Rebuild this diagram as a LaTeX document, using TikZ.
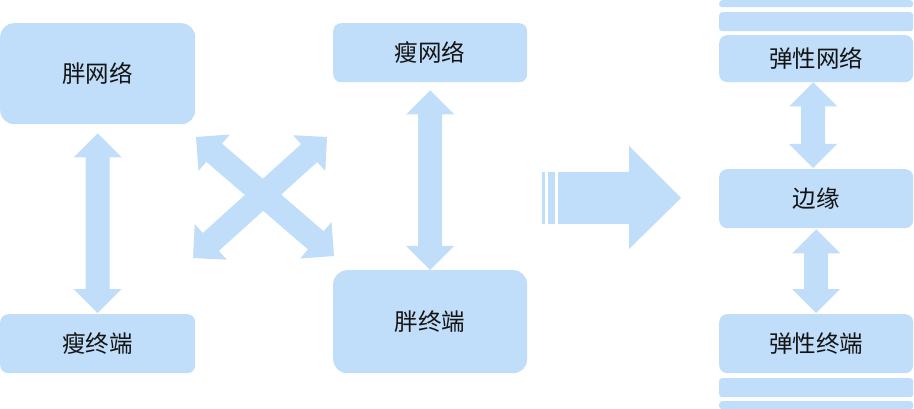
\documentclass[tikz,border=0pt]{standalone}
\usepackage{fontspec}
\newfontfamily\cjk{Noto Sans CJK SC}
\usetikzlibrary{calc}
\definecolor{boxblue}{RGB}{192,221,249}
\definecolor{txt}{RGB}{20,20,20}
\tikzset{
  box/.style={fill=boxblue, draw=none, anchor=north west, inner sep=0pt,
    minimum width=194pt, text=txt, font=\cjk\fontsize{23.5}{26}\selectfont},
  bigbox/.style={box, minimum height=101pt, rounded corners=14pt},
  smallbox/.style={box, minimum height=59pt, rounded corners=8pt},
  stripe/.style={fill=boxblue, draw=none, rounded corners=3pt},
  dbl/.style={fill=boxblue, draw=none, to path={
    -- ($(\tikztostart)!24pt!(\tikztotarget)!24pt!90:(\tikztotarget)$)
    -- ($(\tikztostart)!24pt!(\tikztotarget)!12pt!90:(\tikztotarget)$)
    -- ($(\tikztotarget)!24pt!(\tikztostart)!12pt!-90:(\tikztostart)$)
    -- ($(\tikztotarget)!24pt!(\tikztostart)!24pt!-90:(\tikztostart)$)
    -- (\tikztotarget)
    -- ($(\tikztotarget)!24pt!(\tikztostart)!24pt!90:(\tikztostart)$)
    -- ($(\tikztotarget)!24pt!(\tikztostart)!12pt!90:(\tikztostart)$)
    -- ($(\tikztostart)!24pt!(\tikztotarget)!12pt!-90:(\tikztotarget)$)
    -- ($(\tikztostart)!24pt!(\tikztotarget)!24pt!-90:(\tikztotarget)$)
    -- cycle}}
}
\begin{document}
\begin{tikzpicture}[x=1pt,y=-1pt]
\useasboundingbox[fill=white] (0,0) rectangle (914,409);
% left column
\node[bigbox, minimum width=195pt] (fatnet) at (0,23) {胖网络};
\node[smallbox, minimum width=195pt] (thinterm) at (0,314) {瘦终端};
% middle column
\node[smallbox] (thinnet) at (333,23) {瘦网络};
\node[bigbox, minimum height=103pt] (fatterm) at (333,270) {胖终端};
% right column
\node[stripe, fill=boxblue, anchor=north west, minimum width=194pt, minimum height=7pt, inner sep=0pt] (s1) at (719,0) {};
\node[stripe, anchor=north west, minimum width=194pt, minimum height=19pt, inner sep=0pt] (s2) at (719,12) {};
\node[smallbox, minimum height=47pt] (elnet) at (719,35) {弹性网络};
\node[smallbox] (edge) at (719,169) {边缘};
\node[smallbox] (elterm) at (719,314) {弹性终端};
\node[stripe, anchor=north west, minimum width=194pt, minimum height=19pt, inner sep=0pt] (s3) at (719,378) {};
\node[stripe, anchor=north west, minimum width=194pt, minimum height=8pt, inner sep=0pt] (s4) at (719,401) {};
% vertical double arrows
\coordinate (a1) at ([yshift=-9pt]fatnet.south);
\coordinate (a2) at ([yshift=1pt]thinterm.north);
\fill[dbl] (a1) to (a2);
\coordinate (b1) at ([yshift=-8pt]thinnet.south);
\coordinate (b2) at (fatterm.north);
\fill[dbl] (b1) to (b2);
\coordinate (c1) at ([xshift=-3pt]elnet.south);
\coordinate (c2) at ([xshift=-3pt,yshift=1pt]edge.north);
\fill[dbl] (c1) to (c2);
\coordinate (d1) at ([yshift=-1pt]edge.south);
\coordinate (d2) at ([yshift=1pt]elterm.north);
\fill[dbl] (d1) to (d2);
% crossing arrows
\coordinate (x1) at (196,137);
\coordinate (x2) at (334,256);
\coordinate (x3) at (327,137);
\coordinate (x4) at (193,258);
\fill[dbl] (x1) to (x2);
\fill[dbl] (x3) to (x4);
% big transition arrow
\fill[boxblue] (542,172) rectangle (545,224);
\fill[boxblue] (548,172) rectangle (555,224);
\fill[boxblue] (558,172) -- (629,172) -- (629,146) -- (681,198) -- (629,249) -- (629,224) -- (558,224) -- cycle;
\end{tikzpicture}
\end{document}
